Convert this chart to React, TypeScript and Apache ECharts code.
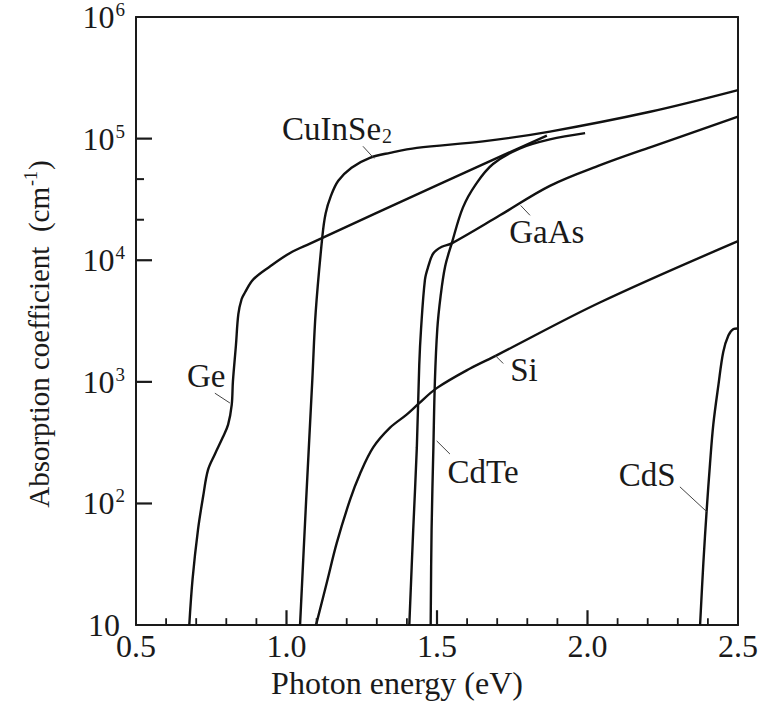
import React, { useEffect, useRef } from "react";
import * as echarts from "echarts";

// Photon energy (eV), absorption coefficient (cm^-1)
const geData: [number, number][] = [
  [0.677, 10], [0.688, 24], [0.706, 61], [0.723, 114], [0.739, 188], [0.762, 254],
  [0.788, 348], [0.806, 445], [0.818, 646], [0.822, 1010], [0.832, 2000], [0.84, 3600],
  [0.851, 4800], [0.862, 5430], [0.889, 6930], [0.945, 8890], [1.012, 11480],
  [1.078, 13700], [1.51, 42500], [1.865, 106000],
];
const cuInSe2Data: [number, number][] = [
  [1.045, 10], [1.065, 103], [1.086, 1069], [1.097, 3741], [1.119, 15560], [1.13, 24270],
  [1.147, 33500], [1.172, 44980], [1.216, 57680], [1.277, 69500], [1.344, 76400],
  [1.433, 83950], [1.653, 94840], [1.875, 114300], [2.208, 166300], [2.5, 250600],
];
const gaAsData: [number, number][] = [
  [1.408, 10], [1.421, 61], [1.433, 289], [1.441, 1371], [1.447, 2720], [1.46, 6930],
  [1.471, 8890], [1.488, 11420], [1.516, 12900], [1.549, 13770], [1.709, 23400],
  [1.875, 40900], [2.042, 60500], [2.208, 84900], [2.5, 151400],
];
const cdTeData: [number, number][] = [
  [1.479, 10], [1.482, 61], [1.488, 289], [1.493, 1012], [1.501, 2720], [1.512, 5070],
  [1.527, 8890], [1.549, 13770], [1.586, 27100], [1.63, 42500], [1.686, 61800],
  [1.776, 83200], [1.875, 98600], [1.992, 111000],
];
const siData: [number, number][] = [
  [1.098, 10], [1.134, 22.4], [1.167, 47.4], [1.211, 107], [1.244, 175], [1.288, 289],
  [1.344, 420], [1.399, 538], [1.438, 658], [1.499, 888], [1.61, 1288], [1.698, 1652],
  [2.041, 4490], [2.5, 14350],
];
const cdSData: [number, number][] = [
  [2.374, 10], [2.385, 32.7], [2.396, 88.5], [2.407, 212], [2.418, 447], [2.435, 944],
  [2.451, 1762], [2.468, 2404], [2.485, 2720], [2.498, 2750],
];

// label anchor (centre of text) and pointer segment for each curve
const labelNames = ["CuInSe2", "Ge", "GaAs", "Si", "CdTe", "CdS"];
const labelTexts = ["{a|CuInSe}{sub|2}", "{a|Ge}", "{a|GaAs}", "{a|Si}", "{a|CdTe}", "{a|CdS}"];
const labelAnchors: [number, number][] = [
  [1.168, 119000], [0.733, 1109], [1.865, 17000], [1.789, 1242], [1.653, 181], [2.198, 171],
];
const pointerStarts: [number, number][] = [
  [1.254, 86500], [0.762, 807], [1.778, 28200], [1.693, 1652], [1.499, 327], [2.307, 137],
];
const pointerEnds: [number, number][] = [
  [1.291, 68700], [0.812, 670], [1.809, 23400], [1.72, 1416], [1.543, 255], [2.396, 85.7],
];

const xMajorTicks = [1.0, 1.5, 2.0];
const xMinorTicks = [
  0.6, 0.7, 0.8, 0.9, 1.1, 1.2, 1.3, 1.4, 1.6, 1.7, 1.8, 1.9, 2.1, 2.2, 2.3, 2.4,
];
const yMajorTicks = [100, 1000, 10000, 100000];
const yMinorTickExponents = [4.333, 4.667];

const FONT = "Liberation Serif";
const INK = "#1a1a1a";

// plot frame
const W = 769, H = 704;
const G_LEFT = 136, G_RIGHT = 31, G_TOP = 17, G_BOTTOM = 74;
const X_MIN = 0.5, X_MAX = 2.5;
const Y_MIN = 10, Y_MAX = 1000000;
const PX_PER_EV = (W - G_LEFT - G_RIGHT) / (X_MAX - X_MIN);
const PX_PER_DECADE = (H - G_TOP - G_BOTTOM) / Math.log10(Y_MAX / Y_MIN);

export default function App() {
  const ref = useRef<HTMLDivElement>(null);

  useEffect(() => {
    document.body.style.margin = "0";
    if (!ref.current) return;
    const chart = echarts.init(ref.current, undefined, { renderer: "svg" });

    const curves: [string, [number, number][]][] = [
      ["CuInSe2", cuInSe2Data],
      ["Ge", geData],
      ["GaAs", gaAsData],
      ["Si", siData],
      ["CdTe", cdTeData],
      ["CdS", cdSData],
    ];

    const series: any[] = curves.map(([name, data]) => {
      const i = labelNames.indexOf(name);
      return {
        name,
        type: "line",
        data,
        showSymbol: false,
        smooth: 0.35,
        lineStyle: { color: "#111", width: 2.4 },
        silent: true,
        markPoint: {
          symbol: "circle",
          symbolSize: 1,
          itemStyle: { color: "rgba(0,0,0,0)" },
          silent: true,
          label: {
            show: true,
            position: "inside",
            formatter: labelTexts[i],
            rich: {
              a: { fontFamily: FONT, fontSize: 33, color: INK },
              sub: { fontFamily: FONT, fontSize: 20, color: INK, verticalAlign: "bottom", padding: [14, 0, 0, 1] },
            },
          },
          data: [{ coord: labelAnchors[i] }],
        },
        markLine: {
          symbol: ["none", "none"],
          silent: true,
          label: { show: false },
          lineStyle: { color: "#444", width: 1, type: "solid" },
          data: [[{ coord: pointerStarts[i] }, { coord: pointerEnds[i] }]],
        },
      };
    });

    // inward tick marks drawn as tiny two-point line series, in axis units
    const tickLine = (a: [number, number], b: [number, number], width: number) => ({
      type: "line",
      data: [a, b],
      showSymbol: false,
      silent: true,
      clip: false,
      z: 5,
      lineStyle: { color: INK, width },
    });
    const xTickTop = (lenPx: number) => Y_MIN * Math.pow(10, lenPx / PX_PER_DECADE);
    const yTickEnd = (lenPx: number) => X_MIN + lenPx / PX_PER_EV;

    xMajorTicks.forEach((v) => series.push(tickLine([v, Y_MIN], [v, xTickTop(15)], 2.2)));
    xMinorTicks.forEach((v) => series.push(tickLine([v, Y_MIN], [v, xTickTop(7)], 1.8)));
    yMajorTicks.forEach((v) => series.push(tickLine([X_MIN, v], [yTickEnd(16), v], 2.2)));
    yMinorTickExponents.forEach((e) => {
      const v = Math.pow(10, e);
      series.push(tickLine([X_MIN, v], [yTickEnd(8), v], 2));
    });

    const frameLine = { show: true, onZero: false, lineStyle: { color: INK, width: 2 } };

    chart.setOption({
      animation: false,
      backgroundColor: "#fff",
      grid: { left: G_LEFT, right: G_RIGHT, top: G_TOP, bottom: G_BOTTOM, show: false },
      xAxis: [
        {
          type: "value",
          min: X_MIN,
          max: X_MAX,
          interval: 0.5,
          name: "Photon energy (eV)",
          nameLocation: "middle",
          nameGap: 36,
          nameTextStyle: { fontFamily: FONT, fontSize: 32, color: INK, padding: [0, 80, 0, 0] },
          axisLine: frameLine,
          axisTick: { show: false },
          splitLine: { show: false },
          axisLabel: {
            show: true,
            margin: 5,
            fontFamily: FONT,
            fontSize: 32,
            color: INK,
            formatter: (v: number) => v.toFixed(1),
          },
        },
        {
          type: "value",
          position: "top",
          min: X_MIN,
          max: X_MAX,
          axisLine: frameLine,
          axisTick: { show: false },
          axisLabel: { show: false },
          splitLine: { show: false },
        },
      ],
      yAxis: [
        {
          type: "log",
          logBase: 10,
          min: Y_MIN,
          max: Y_MAX,
          name: "{a|Absorption coefficient  (cm}{s|-1}{a|)}",
          nameLocation: "middle",
          nameGap: 80,
          nameRotate: 90,
          nameTextStyle: {
            padding: [0, 26, 0, 0],
            rich: {
              a: { fontFamily: FONT, fontSize: 29, color: INK, lineHeight: 34 },
              s: { fontFamily: FONT, fontSize: 18, color: INK, verticalAlign: "top", padding: [0, 1, 0, 1] },
            },
          },
          axisLine: frameLine,
          axisTick: { show: false },
          splitLine: { show: false },
          axisLabel: {
            show: true,
            margin: 11,
            formatter: (v: number) => {
              const e = Math.round(Math.log10(v));
              return e === 1 ? "{p|10}" : "{b|10}{s|" + e + "}";
            },
            rich: {
              b: { fontFamily: FONT, fontSize: 32, color: INK, lineHeight: 34 },
              p: { fontFamily: FONT, fontSize: 32, color: INK, lineHeight: 34, padding: [0, 5, 0, 0] },
              s: { fontFamily: FONT, fontSize: 19, color: INK, verticalAlign: "top", padding: [0, 0, 0, 1] },
            },
          },
        },
        {
          type: "log",
          logBase: 10,
          min: Y_MIN,
          max: Y_MAX,
          position: "right",
          axisLine: frameLine,
          axisTick: { show: false },
          axisLabel: { show: false },
          splitLine: { show: false },
        },
      ],
      series,
    });

    return () => chart.dispose();
  }, []);

  return <div ref={ref} style={{ width: W, height: H }} />;
}
